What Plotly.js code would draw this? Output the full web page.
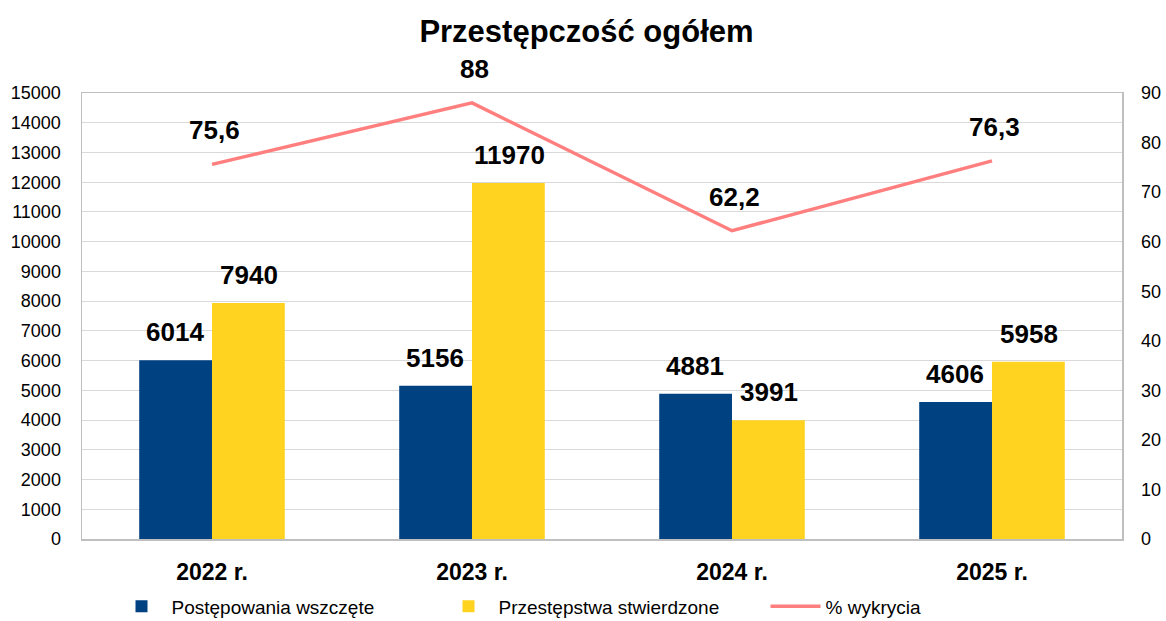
<!DOCTYPE html>
<html><head><meta charset="utf-8">
<script src="https://cdn.plot.ly/plotly-3.0.1.min.js"></script>
<style>html,body{margin:0;padding:0;background:#fff}#c{width:1166px;height:621px}</style>
</head><body><div id="c"></div>
<script>
const categories = ["2022 r.", "2023 r.", "2024 r.", "2025 r."];
const postepowania = [6014, 5156, 4881, 4606];
const przestepstwa = [7940, 11970, 3991, 5958];
const wykrycie = [75.6, 88, 62.2, 76.3];
const wykrycieLabels = ["75,6", "88", "62,2", "76,3"];

const FONT = '"Liberation Sans", Arial, sans-serif';
const LABEL_FONT = {family: FONT, size: 26, color: '#000', weight: 'bold'};

const traces = [
  {type:'bar', name:'Postępowania wszczęte', x:categories, y:postepowania, marker:{color:'#004182'}, yaxis:'y'},
  {type:'bar', name:'Przestępstwa stwierdzone', x:categories, y:przestepstwa, marker:{color:'#FFD320'}, yaxis:'y'},
  {type:'scatter', mode:'lines', name:'% wykrycia', x:categories, y:wykrycie, line:{color:'#FF7F7F', width:3.5}, yaxis:'y2'}
];

const annotations = [];
categories.forEach((c,i)=>{
  annotations.push({x:c, y:postepowania[i], xref:'x', yref:'y', text:String(postepowania[i]), showarrow:false, xshift:-37, yshift:28, font:LABEL_FONT});
  annotations.push({x:c, y:przestepstwa[i], xref:'x', yref:'y', text:String(przestepstwa[i]), showarrow:false, xshift:37, yshift:28, font:LABEL_FONT});
  annotations.push({x:c, y:wykrycie[i], xref:'x', yref:'y2', text:wykrycieLabels[i], showarrow:false, xshift:2, yshift:34, font:LABEL_FONT});
});

const layout = {
  width:1166, height:621,
  margin:{l:82, r:44, t:93, b:82, autoexpand:false},
  paper_bgcolor:'#fff', plot_bgcolor:'#fff',
  title:{text:'Przestępczość ogółem', x:0.503, xanchor:'center', y:0.95, yanchor:'middle', font:{family:FONT, size:31, color:'#000', weight:'bold'}},
  barmode:'group', bargap:0.44, bargroupgap:0,
  xaxis:{showline:true, mirror:true, linecolor:'#bfbfbf', linewidth:1.5, ticks:'', tickfont:{family:FONT, size:23, color:'#000', weight:'bold'}, ticklabelstandoff:12},
  yaxis:{range:[0,15000], dtick:1000, tickformat:'d', showgrid:true, gridcolor:'#d9d9d9', showline:true, mirror:true, linecolor:'#bfbfbf', linewidth:1.5, zeroline:false, tickfont:{family:FONT, size:18, color:'#000'}, ticks:'', ticklabelstandoff:16},
  yaxis2:{range:[0,90], dtick:10, overlaying:'y', side:'right', showgrid:false, zeroline:false, showline:false, tickfont:{family:FONT, size:18, color:'#000'}, ticks:'', ticklabelstandoff:18},
  legend:{orientation:'h', x:0.5, xanchor:'center', yref:'paper', y:-0.151, yanchor:'middle', font:{family:FONT, size:19, color:'#000'}, traceorder:'normal', itemwidth:50, entrywidth:262, entrywidthmode:'pixels'},
  annotations:annotations,
  showlegend:true
};
Plotly.newPlot('c', traces, layout, {displayModeBar:false, staticPlot:true});
</script></body></html>
